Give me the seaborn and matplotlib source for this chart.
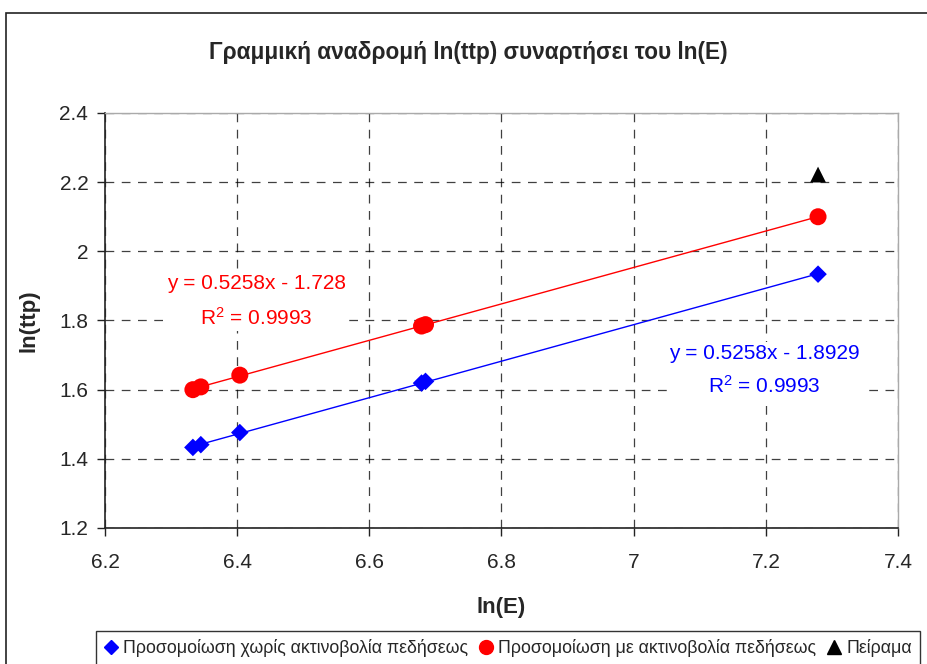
import numpy as np
import pandas as pd
import matplotlib
matplotlib.use("Agg")
import matplotlib.pyplot as plt
from matplotlib.lines import Line2D
from matplotlib.patches import Rectangle
from matplotlib.ticker import FuncFormatter, MultipleLocator
import seaborn as sns

# ln(E) values of the simulated runs
ln_E = [6.333, 6.345, 6.404, 6.679, 6.685, 7.279]
# ln(ttp) without / with the boundary-layer radiation
ln_ttp_no_rad = [1.433, 1.441, 1.476, 1.619, 1.624, 1.934]
ln_ttp_rad = [1.600, 1.608, 1.642, 1.784, 1.788, 2.100]
# experimental point
ln_E_exp = [7.279]
ln_ttp_exp = [2.222]

series_names = [
    "Προσομοίωση χωρίς ακτινοβολία πεδήσεως",
    "Προσομοίωση με ακτινοβολία πεδήσεως",
    "Πείραμα",
]
fit_labels = [
    "y = 0.5258x - 1.8929\nR$^2$ = 0.9993",
    "y = 0.5258x - 1.728\nR$^2$ = 0.9993",
]
title = "Γραμμική αναδρομή ln(ttp) συναρτήσει του ln(E)"
x_label = "ln(E)"
y_label = "ln(ttp)"

sns.set_style("white")
plt.rcParams["font.family"] = ["Liberation Sans", "DejaVu Sans"]
plt.rcParams["mathtext.fontset"] = "custom"
plt.rcParams["mathtext.rm"] = "Liberation Sans"
plt.rcParams["mathtext.default"] = "regular"

df_no = pd.DataFrame({"x": ln_E, "y": ln_ttp_no_rad})
df_rad = pd.DataFrame({"x": ln_E, "y": ln_ttp_rad})
df_exp = pd.DataFrame({"x": ln_E_exp, "y": ln_ttp_exp})

fig = plt.figure(figsize=(9.28, 6.64), dpi=100)
ax = fig.add_axes([105 / 928, 1 - 528 / 664, (898 - 105) / 928, (528 - 113) / 664])

# outer chart frame
fig.patches.append(Rectangle((6 / 928, -0.05), 1.0, 1 - 13 / 664 + 0.05,
                             transform=fig.transFigure, fill=False,
                             edgecolor="#222222", linewidth=1.2, zorder=0))

# trend lines
sns.regplot(data=df_no, x="x", y="y", scatter=False, ci=None, truncate=True,
            color="#0000ff", line_kws={"linewidth": 1.0}, ax=ax)
sns.regplot(data=df_rad, x="x", y="y", scatter=False, ci=None, truncate=True,
            color="#ff0000", line_kws={"linewidth": 1.0}, ax=ax)

# data points
sns.scatterplot(data=df_no, x="x", y="y", marker="D", color="#0000ff", s=80,
                edgecolor="none", ax=ax, zorder=5)
sns.scatterplot(data=df_rad, x="x", y="y", marker="o", color="#ff0000", s=150,
                edgecolor="none", ax=ax, zorder=5)
sns.scatterplot(data=df_exp, x="x", y="y", marker="^", color="#000000", s=130,
                edgecolor="none", ax=ax, zorder=5)

ax.set_xlim(6.2, 7.4)
ax.set_ylim(1.2, 2.4)
ax.xaxis.set_major_locator(MultipleLocator(0.2))
ax.yaxis.set_major_locator(MultipleLocator(0.2))
fmt = FuncFormatter(lambda v, _: f"{v:g}")
ax.xaxis.set_major_formatter(fmt)
ax.yaxis.set_major_formatter(fmt)
ax.grid(True, color="#000000", linestyle=(0, (7, 6)), linewidth=0.9, alpha=0.75)
ax.set_axisbelow(True)
ax.tick_params(axis="both", direction="out", length=6, width=1, color="#222222",
               labelsize=15, pad=6, bottom=True, left=True)
ax.tick_params(axis="x", pad=12)

for side in ["top", "right"]:
    ax.spines[side].set_color("#aaaaaa")
    ax.spines[side].set_linewidth(1)
for side in ["left", "bottom"]:
    ax.spines[side].set_color("#222222")
    ax.spines[side].set_linewidth(1.2)

ax.set_xlabel(x_label, fontsize=16, fontweight="bold", labelpad=18)
ax.set_ylabel(y_label, fontsize=16, fontweight="bold", labelpad=14)
fig.text(468 / 928, 1 - 53 / 664, title, ha="center", va="center",
         fontsize=16.3, fontweight="bold")

# trendline equations
box = dict(facecolor="white", edgecolor="none", pad=1.5)
ax.text(6.429, 1.855, fit_labels[1], color="#ff0000", fontsize=15,
        ha="center", va="center", multialignment="center", linespacing=1.75,
        bbox=box, zorder=3)
ax.text(7.198, 1.655, fit_labels[0], color="#0000ff", fontsize=15,
        ha="center", va="center", multialignment="center", linespacing=1.65,
        bbox=box, zorder=3)

handles = [
    Line2D([], [], marker="D", color="#0000ff", linestyle="none", markersize=7),
    Line2D([], [], marker="o", color="#ff0000", linestyle="none", markersize=10),
    Line2D([], [], marker="^", color="#000000", linestyle="none", markersize=10),
]
leg = fig.legend(handles, series_names, loc="upper center", ncol=3,
                 bbox_to_anchor=(508 / 928, 1 - 631 / 664), borderaxespad=0,
                 frameon=True, fontsize=12.8, handlelength=0.8,
                 handletextpad=0.3, columnspacing=0.6, borderpad=0.45,
                 fancybox=False)
leg.get_frame().set_edgecolor("#000000")
leg.get_frame().set_linewidth(1.0)

fig.savefig("out.png", dpi=100)
